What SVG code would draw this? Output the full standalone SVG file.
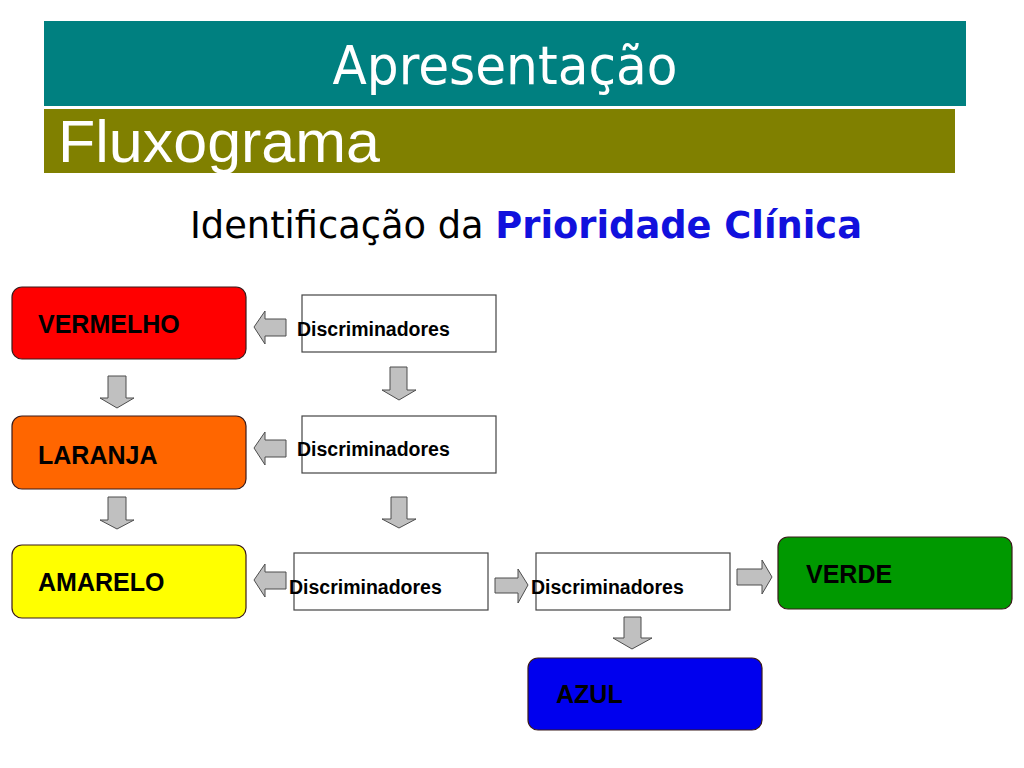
<svg xmlns="http://www.w3.org/2000/svg" width="1024" height="768" viewBox="0 0 1024 768">
<style>
.hdr{font-family:"DejaVu Sans Condensed","DejaVu Sans",sans-serif;}
.lbl{font-family:"Liberation Sans",Arial,sans-serif;font-weight:bold;font-size:25px;fill:#000;}
.disc{font-family:"Liberation Sans",Arial,sans-serif;font-weight:bold;font-size:19.5px;fill:#000;}
.pri{stroke:#3a1a1a;stroke-width:1.2;}
.dbox{fill:#fff;stroke:#444;stroke-width:1.2;}
.arr{fill:#c0c0c0;stroke:#4d4d4d;stroke-width:1;stroke-linejoin:miter;}
</style>
<rect width="1024" height="768" fill="#fff"/>
<g id="title">
<rect x="44" y="21" width="922" height="85" fill="#008080"/>
<text x="505" y="84" class="hdr" font-size="53" fill="#fff" text-anchor="middle" textLength="345" lengthAdjust="spacingAndGlyphs">Apresentação</text>
<rect x="44" y="109" width="911" height="64" fill="#808000"/>
<text x="58" y="162" font-family="Liberation Sans,Arial,sans-serif" font-size="59" fill="#fff" textLength="322" lengthAdjust="spacingAndGlyphs">Fluxograma</text>
<text x="190" y="238" class="hdr" font-size="37" fill="#000" textLength="672" lengthAdjust="spacingAndGlyphs">Identificação da <tspan fill="#1111dd" font-weight="bold">Prioridade Clínica</tspan></text>
</g>
<g id="vermelho"><rect x="12" y="287" width="234" height="72" rx="10" fill="#ff0000" class="pri"/><text x="38" y="333" class="lbl">VERMELHO</text></g>
<g id="laranja"><rect x="12" y="416" width="234" height="73" rx="10" fill="#ff6600" class="pri"/><text x="38" y="464" class="lbl">LARANJA</text></g>
<g id="amarelo"><rect x="12" y="545" width="234" height="73" rx="10" fill="#ffff00" class="pri"/><text x="38" y="591" class="lbl">AMARELO</text></g>
<g id="verde"><rect x="778" y="537" width="234" height="72" rx="10" fill="#009900" class="pri"/><text x="806" y="583" class="lbl">VERDE</text></g>
<g id="azul"><rect x="528" y="658" width="234" height="72" rx="10" fill="#0000ee" class="pri"/><text x="556" y="703" class="lbl" font-size="24.5">AZUL</text></g>
<g id="disc1"><rect x="302" y="295" width="194" height="57" class="dbox"/><text x="297" y="336" class="disc">Discriminadores</text></g>
<g id="disc2"><rect x="302" y="416" width="194" height="57" class="dbox"/><text x="297" y="456" class="disc">Discriminadores</text></g>
<g id="disc3"><rect x="294" y="553" width="194" height="57" class="dbox"/><text x="289" y="594" class="disc">Discriminadores</text></g>
<g id="disc4"><rect x="536" y="553" width="194" height="57" class="dbox"/><text x="531" y="594" class="disc">Discriminadores</text></g>
<g id="connectors">
<path class="arr" d="M254,327 L265,311 L265,319 L286,319 L286,336 L265,336 L265,344 Z"/>
<path class="arr" d="M254,448 L265,432 L265,440 L286,440 L286,457 L265,457 L265,465 Z"/>
<path class="arr" d="M254,580 L265,564 L265,572 L286,572 L286,589 L265,589 L265,597 Z"/>
<path class="arr" d="M528,585 L518,569 L518,578 L495,578 L495,593 L518,593 L518,603 Z"/>
<path class="arr" d="M772,577 L762,560 L762,569 L737,569 L737,585 L762,585 L762,594 Z"/>
<path class="arr" d="M117,408 L100,398 L108,398 L108,376 L126,376 L126,398 L134,398 Z"/>
<path class="arr" d="M399,400 L382,390 L390,390 L390,367 L407,367 L407,390 L416,390 Z"/>
<path class="arr" d="M117,529 L100,520 L108,520 L108,497 L126,497 L126,520 L134,520 Z"/>
<path class="arr" d="M399,528 L382,519 L391,519 L391,497 L407,497 L407,519 L416,519 Z"/>
<path class="arr" d="M632,649 L613,638 L624,638 L624,617 L641,617 L641,638 L652,638 Z"/>
</g>
</svg>
